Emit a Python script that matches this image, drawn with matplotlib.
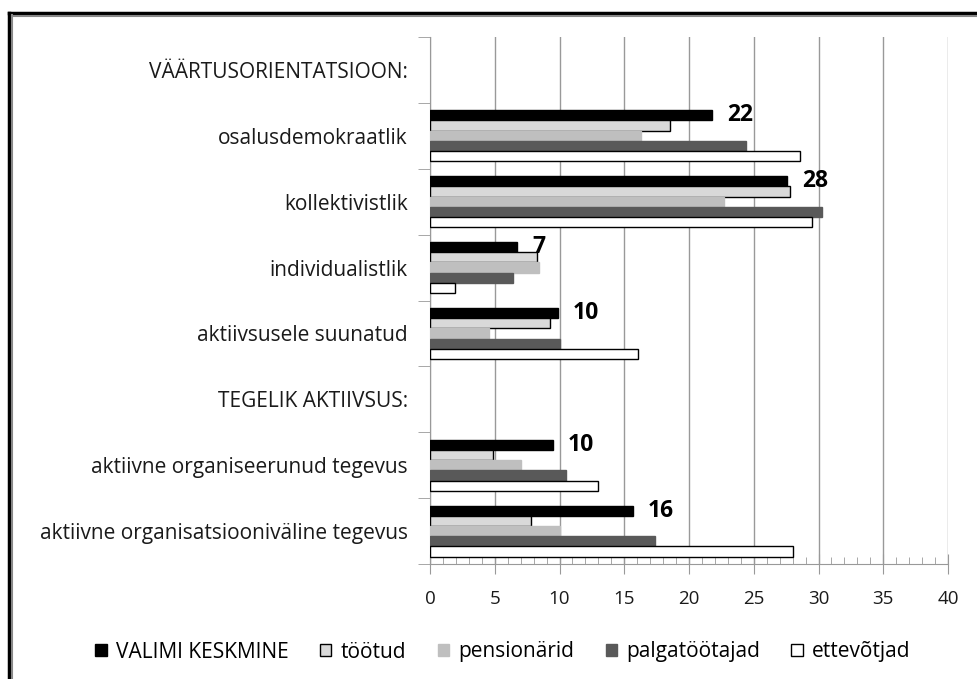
#!/usr/bin/env python3
import numpy as np
import matplotlib
matplotlib.use("Agg")
import matplotlib.pyplot as plt
from matplotlib.lines import Line2D
from matplotlib.ticker import MultipleLocator, FixedLocator

plt.rcParams['font.family'] = ['Open Sans', 'DejaVu Sans']

# Categories, top to bottom (headers carry no values)
categories = [
    "VÄÄRTUSORIENTATSIOON:",
    "osalusdemokraatlik",
    "kollektivistlik",
    "individualistlik",
    "aktiivsusele suunatud",
    "TEGELIK AKTIIVSUS:",
    "aktiivne organiseerunud tegevus",
    "aktiivne organisatsiooniväline tegevus",
]

series_names = ["VALIMI KESKMINE", "töötud", "pensionärid", "palgatöötajad", "ettevõtjad"]

valimi_keskmine = [None, 21.8, 27.6, 6.75, 9.9, None, 9.5, 15.65]
tootud = [None, 18.5, 27.8, 8.3, 9.3, None, 4.9, 7.8]
pensionarid = [None, 16.3, 22.7, 8.4, 4.55, None, 7.0, 10.05]
palgatootajad = [None, 24.4, 30.3, 6.4, 10.05, None, 10.5, 17.4]
ettevotjad = [None, 28.6, 29.5, 1.95, 16.05, None, 13.0, 28.0]

x_ticks = [0, 5, 10, 15, 20, 25, 30, 35, 40]

series = [valimi_keskmine, tootud, pensionarid, palgatootajad, ettevotjad]
fills = ["#000000", "#d9d9d9", "#bfbfbf", "#595959", "#ffffff"]
edges = ["#000000", "#000000", "#bfbfbf", "#595959", "#000000"]

fig = plt.figure(figsize=(9.78, 6.79), dpi=100)
ax = fig.add_axes([430 / 978, 1 - 564 / 679, 518 / 978, 527 / 679])

y = np.arange(len(categories))
h = 0.155
for i, (vals, fc, ec) in enumerate(zip(series, fills, edges)):
    idx = [k for k, v in enumerate(vals) if v is not None]
    w = [vals[k] for k in idx]
    ax.barh(y[idx] + (i - 2) * h, w, height=h, color=fc, edgecolor=ec,
            linewidth=1.0, label=series_names[i], zorder=3)

# value labels next to the average bar
for k, v in enumerate(valimi_keskmine):
    if v is None:
        continue
    ax.text(v + 1.15, y[k] - 2 * h, f"{round(v):.0f}", fontsize=16.5,
            fontweight="bold", va="center", ha="left", zorder=4)

ax.set_xlim(0, 40)
ax.set_ylim(len(categories) - 0.5, -0.5)
ax.set_xticks(x_ticks)
ax.set_xticklabels([str(t) for t in x_ticks])
ax.xaxis.set_minor_locator(MultipleLocator(1))
ax.grid(axis="x", which="major", color="#999999", linewidth=1.0, zorder=0)

ax.set_yticks(y)
ax.set_yticklabels(categories)
ax.yaxis.set_minor_locator(FixedLocator(np.arange(len(categories) + 1) - 0.5))

for side in ["top", "right"]:
    ax.spines[side].set_visible(False)
ax.spines["left"].set_color("#999999")
ax.spines["bottom"].set_color("#999999")

ax.tick_params(axis="x", which="major", direction="inout", length=14,
               color="#999999", pad=12, labelsize=13.5, labelcolor="#1a1a1a")
ax.tick_params(axis="x", which="minor", direction="in", length=5, color="#999999")
ax.tick_params(axis="y", which="major", length=0, pad=16, labelsize=15,
               labelcolor="#1a1a1a")
ax.tick_params(axis="y", which="minor", direction="out", length=9, color="#999999")

fig.legend(loc="center", bbox_to_anchor=(503 / 978, 1 - 652 / 679), ncol=5,
           frameon=False, fontsize=15, handlelength=0.55, handleheight=0.55,
           handletextpad=0.45, columnspacing=1.5)

# outer frame (Excel chart border with shadow)
fig.add_artist(Line2D([9 / 978, 9 / 978], [0, 1 - 13 / 679], transform=fig.transFigure,
                      color="black", linewidth=2.5))
fig.add_artist(Line2D([9 / 978, 1], [1 - 13 / 679, 1 - 13 / 679], transform=fig.transFigure,
                      color="black", linewidth=2.5))
fig.add_artist(Line2D([12 / 978, 12 / 978], [0, 1 - 15 / 679], transform=fig.transFigure,
                      color="#888888", linewidth=1.5))
fig.add_artist(Line2D([12 / 978, 1], [1 - 15.5 / 679, 1 - 15.5 / 679], transform=fig.transFigure,
                      color="#888888", linewidth=1.5))

fig.savefig("out.png", dpi=100)
